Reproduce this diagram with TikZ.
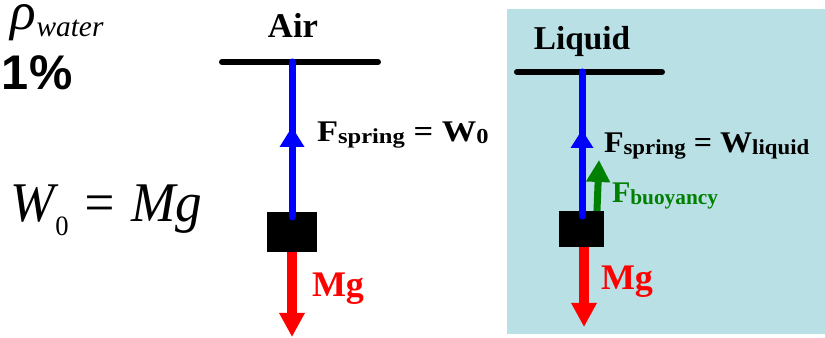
\documentclass[tikz,border=0pt]{standalone}
\usepackage{fontspec}
\setmainfont{Liberation Serif}
\newfontfamily\arialfont{Liberation Sans}
\usetikzlibrary{arrows.meta}
\definecolor{liqbg}{RGB}{185,224,228}
\definecolor{fgreen}{RGB}{0,128,0}
\newcommand\fsz[1]{\fontsize{#1}{#1}\selectfont}
\newcommand\lowsub[1]{\raisebox{-1pt}{\fsz{16}#1}}
\begin{document}
\begin{tikzpicture}[x=0.75pt,y=-0.75pt,
  ceiling/.style={line width=4.5pt,line cap=round},
  springline/.style={blue,line width=5.25pt,line cap=round},
  midhead/.style={fill=blue},
  mass/.style={fill=black,inner sep=0pt,outer sep=0pt},
  weight/.style={red,line width=7.5pt,-{Triangle[width=18pt,length=18pt]}},
  buoy/.style={fgreen,line width=5.25pt,-{Triangle[width=17pt,length=16.5pt]}},
  lbl/.style={inner sep=0pt,outer sep=0pt,anchor=base west},
  title/.style={inner sep=0pt,outer sep=0pt,anchor=base,font=\bfseries\fsz{26}},
  flabel/.style={lbl,font=\bfseries\fsz{22.5}},
  mglabel/.style={lbl,text=red,font=\bfseries\fsz{27}}
]
\useasboundingbox (0,0) rectangle (825,338);
% liquid panel
\node[fill=liqbg,inner sep=0pt,outer sep=0pt,minimum width=238.5pt,minimum height=243.75pt,anchor=north west] (panel) at (507,9) {};

% left texts
\node[lbl] (rho) at (11,30) {\fsz{40}\itshape ρ\raisebox{-5pt}{\fsz{22}water}};
\node[lbl] (pct) at (2,90) {\arialfont\bfseries\fsz{36.5}1\%};
\node[lbl,xscale=0.95] (eq) at (11,222) {\fsz{42}\itshape W\raisebox{-10pt}{\upshape\fsz{21}0} = Mg};

% ---------- Air ----------
\node[title] (air) at (293,38) {Air};
\coordinate (ceilAl) at (222,62);
\coordinate (ceilAr) at (378,62);
\coordinate (ceilAm) at (292,62);
\draw[ceiling] (ceilAl) -- (ceilAr);
\node[mass,minimum width=37.5pt,minimum height=30pt] (massA) at (292,232) {};
\coordinate (tipA) at (292,337);
\draw[weight] (massA.south) -- (tipA);
\draw[springline] (ceilAm) -- ([yshift=-3.75pt]massA.north);
\fill[midhead] (292,127) -- (304.5,147) -- (279.5,147) -- cycle;
\node[flabel,xscale=1.15] (fsA) at (317,142) {F\lowsub{spring} = W\lowsub{0}};
\node[mglabel] (mgA) at (312,297) {Mg};

% ---------- Liquid ----------
\node[title,font=\bfseries\fsz{25}] (liq) at (582,50) {Liquid};
\coordinate (ceilBl) at (517,72);
\coordinate (ceilBr) at (662,72);
\coordinate (ceilBm) at (582,72);
\draw[ceiling] (ceilBl) -- (ceilBr);
\node[mass,minimum width=33.75pt,minimum height=27pt] (massB) at (581.5,229) {};
\coordinate (tipB) at (584,327);
\draw[weight] (massB.south -| tipB) -- (tipB);
\coordinate (tipG) at (599,160);
\draw[buoy] ([xshift=11.6pt]massB.north) -- (tipG);
\draw[springline] (ceilBm) -- ([yshift=-3.75pt]massB.north -| ceilBm);
\fill[midhead] (582,130) -- (593.5,148) -- (570.5,148) -- cycle;
\node[flabel,xscale=1.07] (fsB) at (604,153) {F\lowsub{spring} = W\lowsub{liquid}};
\node[flabel,text=fgreen] (fb) at (612,203) {F\lowsub{buoyancy}};
\node[mglabel] (mgB) at (601,290) {Mg};
\end{tikzpicture}
\end{document}
